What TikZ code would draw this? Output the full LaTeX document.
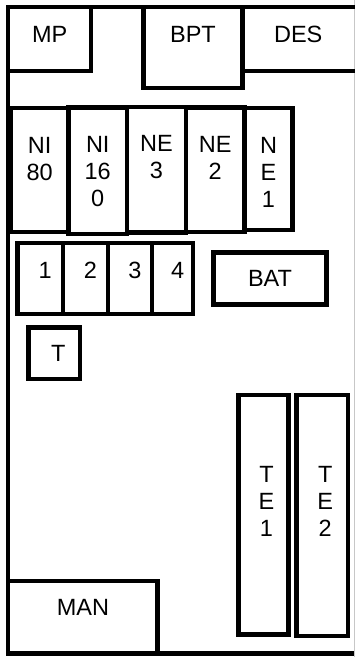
\documentclass[tikz,border=0pt]{standalone}
\usepackage{fontspec}
\setmainfont{Liberation Sans}
\usetikzlibrary{positioning}
\tikzset{
  wall/.style={draw=black, line width=4.3pt},
  room/.style={
    draw=black,
    line width=4.3pt,
    inner sep=0pt,
    outer sep=0pt
  },
  roomlabel/.style={
    font=\fontsize{23.5pt}{27pt}\selectfont,
    align=center,
    inner sep=0pt
  },
  edgeline/.style={draw=black!22, line width=0.8pt}
}

\begin{document}
\begin{tikzpicture}[x=1pt,y=-1pt]
\useasboundingbox (0,0) rectangle (355,657);
\fill[white] (0,0) rectangle (355,657);

% outer frame, right side falls off the page
\draw[wall] (8.3,7.2) rectangle (358,653.5);
\coordinate (edgetop) at (354.2,0);
\coordinate (edgebot) at (354.2,657);
\draw[edgeline] (edgetop) -- (edgebot);

% top strip
\node[room, minimum width=82.7pt, minimum height=63.8pt] (mp) at (49.65,39.1) {};
\node[room, minimum width=99pt, minimum height=81.1pt] (bpt) at (193,47.75) {};
\node[room, minimum width=115.5pt, minimum height=63.8pt] (des) at (300.25,39.1) {};

% N row
\node[room, minimum width=57.7pt, minimum height=123.7pt] (ni80) at (39.65,170.15) {};
\node[room, minimum width=58.5pt, minimum height=126.5pt] (ni160) at (97.75,170.75) {};
\node[room, minimum width=59pt, minimum height=125.8pt] (ne3) at (156.5,169.6) {};
\node[room, minimum width=58.5pt, minimum height=124.5pt] (ne2) at (215.25,169.75) {};
\node[room, minimum width=48pt, minimum height=122pt] (ne1) at (268.5,169.3) {};

% numbered row
\node[room, minimum width=45.3pt, minimum height=70.7pt] (one) at (40.15,278.35) {};
\node[room, minimum width=45.2pt, minimum height=70.7pt] (two) at (85.4,278.35) {};
\node[room, minimum width=44pt, minimum height=70.7pt] (three) at (130,278.35) {};
\node[room, minimum width=41.2pt, minimum height=70.7pt] (four) at (172.6,278.35) {};
\node[room, minimum width=113pt, minimum height=52pt] (bat) at (270,278.5) {};
\node[room, minimum width=51.5pt, minimum height=51.5pt] (t) at (54.25,353.25) {};

% lower part
\node[room, minimum width=50pt, minimum height=239.5pt] (te1) at (263.5,514.75) {};
\node[room, minimum width=51.5pt, minimum height=241pt] (te2) at (322.25,515.5) {};
\node[room, minimum width=149.2pt, minimum height=72.3pt] (man) at (82.9,617.35) {};

% labels
\node[roomlabel, below=18.5pt of mp.north] (mp-txt) {MP};
\node[roomlabel, below=18.5pt of bpt.north] (bpt-txt) {BPT};
\node[roomlabel, below=18.5pt of des.north, xshift=-2pt] (des-txt) {DES};
\node[roomlabel, below=28.5pt of ni80.north] (ni80-txt) {NI\\80};
\node[roomlabel, below=28.5pt of ni160.north] (ni160-txt) {NI\\16\\0};
\node[roomlabel, below=28.5pt of ne3.north] (ne3-txt) {NE\\3};
\node[roomlabel, below=28.5pt of ne2.north] (ne2-txt) {NE\\2};
\node[roomlabel, below=28.5pt of ne1.north] (ne1-txt) {N\\E\\1};
\node[roomlabel, below=18.7pt of one.north, xshift=5pt] (one-txt) {1};
\node[roomlabel, below=18.7pt of two.north, xshift=5pt] (two-txt) {2};
\node[roomlabel, below=18.7pt of three.north, xshift=5pt] (three-txt) {3};
\node[roomlabel, below=18.7pt of four.north, xshift=5pt] (four-txt) {4};
\node[roomlabel, below=17.5pt of bat.north] (bat-txt) {BAT};
\node[roomlabel, below=17.5pt of t.north, xshift=4pt] (t-txt) {T};
\node[roomlabel, below=71pt of te1.north, xshift=3pt] (te1-txt) {T\\E\\1};
\node[roomlabel, below=71pt of te2.north, xshift=3pt] (te2-txt) {T\\E\\2};
\node[roomlabel, below=18pt of man.north] (man-txt) {MAN};

\end{tikzpicture}
\end{document}
